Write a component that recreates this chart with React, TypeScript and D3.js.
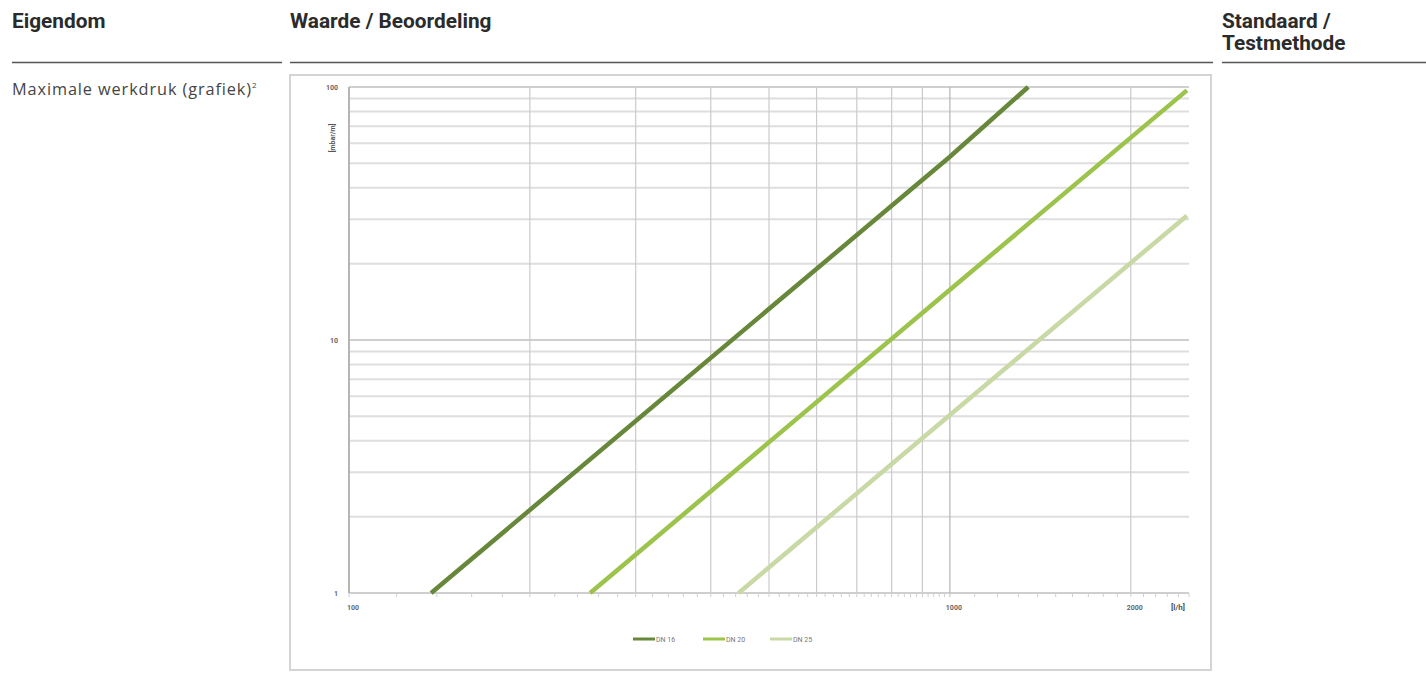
import React from "react";
import * as d3 from "d3";

const seriesNames = ["DN 16", "DN 20", "DN 25"];
const seriesColors = ["#67873a", "#9cc34c", "#c9d9a6"];
const dn16Flow = [137, 1000, 1350];
const dn16Drop = [1, 53, 100];
const dn20Flow = [252, 1000, 2480];
const dn20Drop = [1, 15.8, 97];
const dn25Flow = [445, 1000, 2480];
const dn25Drop = [1, 5.05, 31];

const xTickValues = [100, 1000, 2000];
const xTickLabels = ["100", "1000", "2000"];
const yTickValues = [1, 10, 100];
const yTickLabels = ["1", "10", "100"];
const xGridValues = [100, 200, 300, 400, 500, 600, 700, 800, 900, 1000, 2000];
const yGridValues = [1, 2, 3, 4, 5, 6, 7, 8, 9, 10, 20, 30, 40, 50, 60, 70, 80, 90, 100];

const headers = ["Eigendom", "Waarde / Beoordeling"];

export default function App() {
  const x = d3.scaleLog().domain([100, 2500]).range([349, 1189]);
  const y = d3.scaleLog().domain([1, 100]).range([593, 87]);
  const line = d3
    .line<[number, number]>()
    .x((d) => x(d[0]))
    .y((d) => y(d[1]));
  const series = [
    dn16Flow.map((f, i) => [f, dn16Drop[i]] as [number, number]),
    dn20Flow.map((f, i) => [f, dn20Drop[i]] as [number, number]),
    dn25Flow.map((f, i) => [f, dn25Drop[i]] as [number, number]),
  ];
  const minorX: number[] = [];
  for (let v = 1000; v <= 2500; v += 100) minorX.push(v);
  for (let v = 100; v <= 1000; v += 20) minorX.push(v);

  const legendX = [633, 703, 770];
  const headStyle = { fontSize: 20.8, fontWeight: 700, fill: "#2b2b2b" } as const;

  return (
    <svg
      width={1426}
      height={673}
      style={{ position: "absolute", left: 0, top: 0, background: "#fff" }}
      fontFamily="Roboto, 'DejaVu Sans', sans-serif"
    >
      {/* headers */}
      <text x={12} y={28} {...headStyle}>
        {headers[0]}
      </text>
      <text x={290} y={28} {...headStyle}>
        {headers[1]}
      </text>
      <text x={1222} y={28} {...headStyle}>
        Standaard /
      </text>
      <text x={1222} y={50} {...headStyle}>
        Testmethode
      </text>
      <line x1={12} x2={282} y1={62.5} y2={62.5} stroke="#555" strokeWidth={1.3} />
      <line x1={290} x2={1213} y1={62.5} y2={62.5} stroke="#555" strokeWidth={1.3} />
      <line x1={1222} x2={1426} y1={62.5} y2={62.5} stroke="#555" strokeWidth={1.3} />

      <text x={12} y={95} fontSize={16.3} letterSpacing={0.9} fill="#444" fontFamily="'Open Sans', sans-serif">
        Maximale werkdruk (grafiek)
        <tspan fontSize={8} dy={-7}>2</tspan>
      </text>

      {/* chart frame */}
      <rect x={290} y={75} width={921} height={595} fill="#fff" stroke="#d4d4d4" strokeWidth={2} />

      {/* horizontal grid */}
      {yGridValues.map((v) => (
        <line
          key={"h" + v}
          x1={x(100)}
          x2={x(2500)}
          y1={y(v)}
          y2={y(v)}
          stroke={v === 10 || v === 100 || v === 1 ? "#cfcfcf" : "#dedede"}
          strokeWidth={2}
        />
      ))}
      {/* vertical grid */}
      {xGridValues.map((v) => (
        <line
          key={"v" + v}
          x1={x(v)}
          x2={x(v)}
          y1={y(100)}
          y2={y(1)}
          stroke={v === 1000 || v === 100 ? "#b5b5b5" : "#cbcbcb"}
          strokeWidth={v === 100 ? 2 : 1.2}
        />
      ))}
      {minorX.map((v, i) => (
        <line key={"m" + i} x1={x(v)} x2={x(v)} y1={y(1)} y2={y(1) + 4} stroke="#cfcfcf" strokeWidth={1} />
      ))}

      {/* series */}
      {series.map((s, i) => (
        <path
          key={seriesNames[i]}
          d={line(s) || ""}
          fill="none"
          stroke={seriesColors[i]}
          strokeWidth={4.5}
          strokeLinecap="butt"
        />
      ))}

      {/* y tick labels */}
      {yTickValues.map((v, i) => (
        <text key={"yt" + v} x={338} y={y(v) + 2.5} fontSize={7} fontWeight={700} fill="#666" textAnchor="end">
          {yTickLabels[i]}
        </text>
      ))}
      <text
        transform={`translate(335,138) rotate(-90)`}
        fontSize={7}
        fontWeight={700}
        fill="#555"
        textAnchor="middle"
      >
        [mbar/m]
      </text>
      {/* x tick labels */}
      {xTickValues.map((v, i) => (
        <text key={"xt" + v} x={x(v) + 4} y={610} fontSize={7} fontWeight={700} fill="#666" textAnchor="middle">
          {xTickLabels[i]}
        </text>
      ))}
      <text x={1178} y={610} fontSize={8} fontWeight={700} fill="#555" textAnchor="middle">
        [l/h]
      </text>

      {/* legend */}
      {seriesNames.map((n, i) => (
        <g key={"lg" + n}>
          <line x1={legendX[i]} x2={legendX[i] + 22} y1={639} y2={639} stroke={seriesColors[i]} strokeWidth={3} />
          <text x={legendX[i] + 23} y={641.5} fontSize={7} fill="#777">
            {n}
          </text>
        </g>
      ))}
    </svg>
  );
}
